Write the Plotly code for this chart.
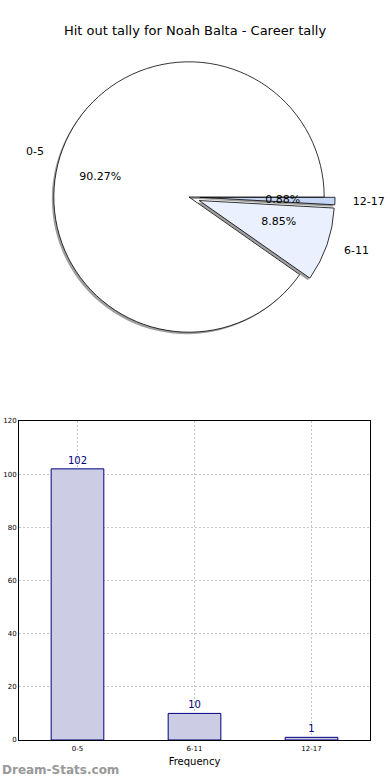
import plotly.graph_objects as go

categories = ["0-5", "6-11", "12-17"]
counts = [102, 10, 1]
pie_colors = ["#ffffff", "#eaf0fd", "#c6d6f6"]
pulls = [0, 0.08, 0.08]
title_text = "Hit out tally for Noah Balta - Career tally"
y_ticks = [0, 20, 40, 60, 80, 100, 120]

W, H = 390, 780
FONT = "DejaVu Sans"

cx, cy, half = 189, 197, 146

# clockwise drawing of the reversed order == matplotlib's counterclockwise from 3 o'clock
rl = categories[::-1]
rv = counts[::-1]
rc = pie_colors[::-1]
rp = pulls[::-1]


def pdom(cx, cy, half):
    return dict(x=[(cx - half) / W, (cx + half) / W],
                y=[(H - cy - half) / H, (H - cy + half) / H])


fig = go.Figure()

common = dict(labels=rl, values=rv, sort=False, direction="clockwise",
              rotation=90, pull=rp, hoverinfo="skip", showlegend=False,
              automargin=False)

# shadow pie
fig.add_trace(go.Pie(
    **common, domain=pdom(cx - 2, cy + 2, half),
    marker=dict(colors=["rgba(80,80,80,0.55)"] * 3, line=dict(width=0)),
    textinfo="none",
))

# main pie
fig.add_trace(go.Pie(
    **common, domain=pdom(cx, cy, half),
    marker=dict(colors=rc, line=dict(color="black", width=0.8)),
    textinfo="none",
))

# transparent smaller pie carrying the percentages (about 0.6 R)
fig.add_trace(go.Pie(
    **common, domain=pdom(cx, cy, half * 0.5),
    marker=dict(colors=["rgba(0,0,0,0)"] * 3, line=dict(width=0)),
    texttemplate="%{percent:.2%}", textposition="outside",
    textfont=dict(family=FONT, size=11, color="black"),
))

# transparent larger pie carrying the category labels (about 1.1 R)
fig.add_trace(go.Pie(
    **common, domain=pdom(cx, cy, half * 1.1),
    marker=dict(colors=["rgba(0,0,0,0)"] * 3, line=dict(width=0)),
    texttemplate="%{label}", textposition="outside",
    textfont=dict(family=FONT, size=11, color="black"),
))

fig.add_trace(go.Bar(
    x=categories, y=counts, width=0.45,
    marker=dict(color="#ccccE4", line=dict(color="#000080", width=1)),
    text=[str(c) for c in counts], textposition="outside",
    textfont=dict(family=FONT, size=10, color="#000080"),
    cliponaxis=False, showlegend=False,
    xaxis="x", yaxis="y",
))

grid = dict(showgrid=True, gridcolor="#c4c4c4", griddash="2px,2px", gridwidth=1,
            showline=True, linecolor="black", linewidth=1, mirror=True,
            ticks="", tickfont=dict(family=FONT, size=7),
            zeroline=False, fixedrange=True, automargin=False)

fig.update_layout(
    width=W, height=H,
    showlegend=False,
    margin=dict(l=0, r=0, t=0, b=0, autoexpand=False),
    paper_bgcolor="white", plot_bgcolor="white",
    font=dict(family=FONT, color="black"),
    title=dict(text=title_text, x=0.5, xanchor="center", y=1 - 30 / H,
               yanchor="middle", font=dict(family=FONT, size=13, color="black")),
    xaxis=dict(domain=[19 / W, 370 / W], anchor="y", range=[-0.5, 2.5],
               ticklabelstandoff=2,
               title=dict(text="Frequency", font=dict(family=FONT, size=10), standoff=5),
               **grid),
    yaxis=dict(domain=[40 / H, (H - 421) / H], anchor="x", range=[0, 120],
               tickvals=y_ticks, **grid),
    annotations=[dict(text="<b>Dream-Stats.com</b>", xref="paper", yref="paper",
                      x=0, y=1 - 770 / H, xanchor="left", yanchor="middle",
                      showarrow=False, font=dict(family=FONT, size=12, color="#999999"))],
)

fig.write_html("out.html", config={"displayModeBar": False},
               post_script="document.body.style.margin='0';document.body.style.padding='0';")
